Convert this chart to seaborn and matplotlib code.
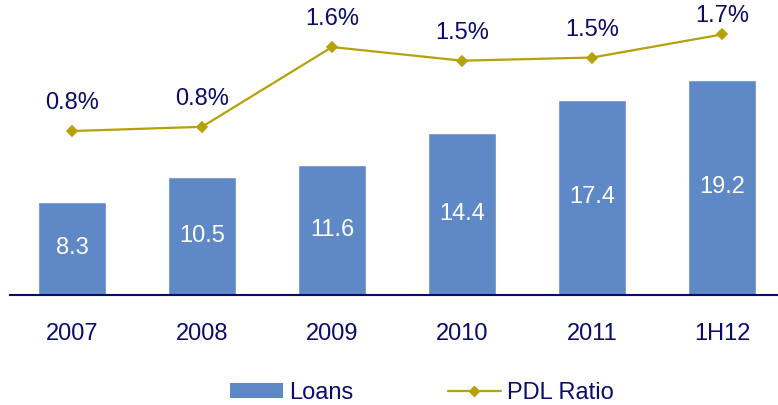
import numpy as np
import matplotlib
matplotlib.use('Agg')
import matplotlib.pyplot as plt
import seaborn as sns
from matplotlib.patches import Patch
from matplotlib.lines import Line2D

# Datos
periodos = ['2007', '2008', '2009', '2010', '2011', '1H12']
prestamos = [8.3, 10.5, 11.6, 14.4, 17.4, 19.2]
pdl_ratio = [0.80, 0.84, 1.60, 1.47, 1.50, 1.72]

azul = '#5F89C6'
oliva = '#B5A10A'
marino = '#0B0B6B'

sns.set_style('white')
plt.rcParams['font.family'] = ['Liberation Sans', 'DejaVu Sans']

fig = plt.figure(figsize=(7.78, 4.05), dpi=100)
ax = fig.add_axes([10 / 778, 110 / 405, 768 / 778, 295 / 405])

# Barras de prestamos
sns.barplot(x=periodos, y=prestamos, color=azul, width=0.52, saturation=1, ax=ax)
for i, v in enumerate(prestamos):
    ax.text(i, v / 2, f'{v:.1f}', ha='center', va='center', color='white', fontsize=17)

ax.set_ylim(0, 26.3)

# Linea del ratio PDL en eje secundario
ax2 = ax.twinx()
sns.pointplot(x=periodos, y=pdl_ratio, color=oliva, markers='D', markersize=5,
              linewidth=1.6, ax=ax2)
for i, v in enumerate(pdl_ratio):
    # la ultima etiqueta queda pegada al borde superior
    desp = 5 if i == len(pdl_ratio) - 1 else 12
    ax2.annotate(f'{v:.1f}%', (i, v), xytext=(0, desp), textcoords='offset points',
                 ha='center', va='bottom', color=marino, fontsize=17)
ax2.set_ylim(-0.762, 2.048)

ax.set_xlim(-0.477, 5.43)
for a in (ax, ax2):
    for s in ['top', 'right', 'left', 'bottom']:
        a.spines[s].set_visible(False)
    a.set_yticks([])
    a.set_ylabel('')
    a.set_xlabel('')
ax.spines['bottom'].set_visible(True)
ax.spines['bottom'].set_color(marino)
ax.spines['bottom'].set_linewidth(1.5)
ax.tick_params(axis='x', length=0, pad=20, labelsize=17, labelcolor=marino)

handles = [Patch(facecolor=azul, edgecolor='none'),
           Line2D([0], [0], color=oliva, marker='D', markersize=5, linewidth=1.6)]
fig.legend(handles, ['Loans', 'PDL Ratio'], loc='center', bbox_to_anchor=(0.542, 0.03),
           ncol=2, frameon=False, fontsize=17, labelcolor=marino, handlelength=2.25,
           handleheight=0.6, handletextpad=0.25, columnspacing=4)

fig.savefig('out.png', dpi=100)
